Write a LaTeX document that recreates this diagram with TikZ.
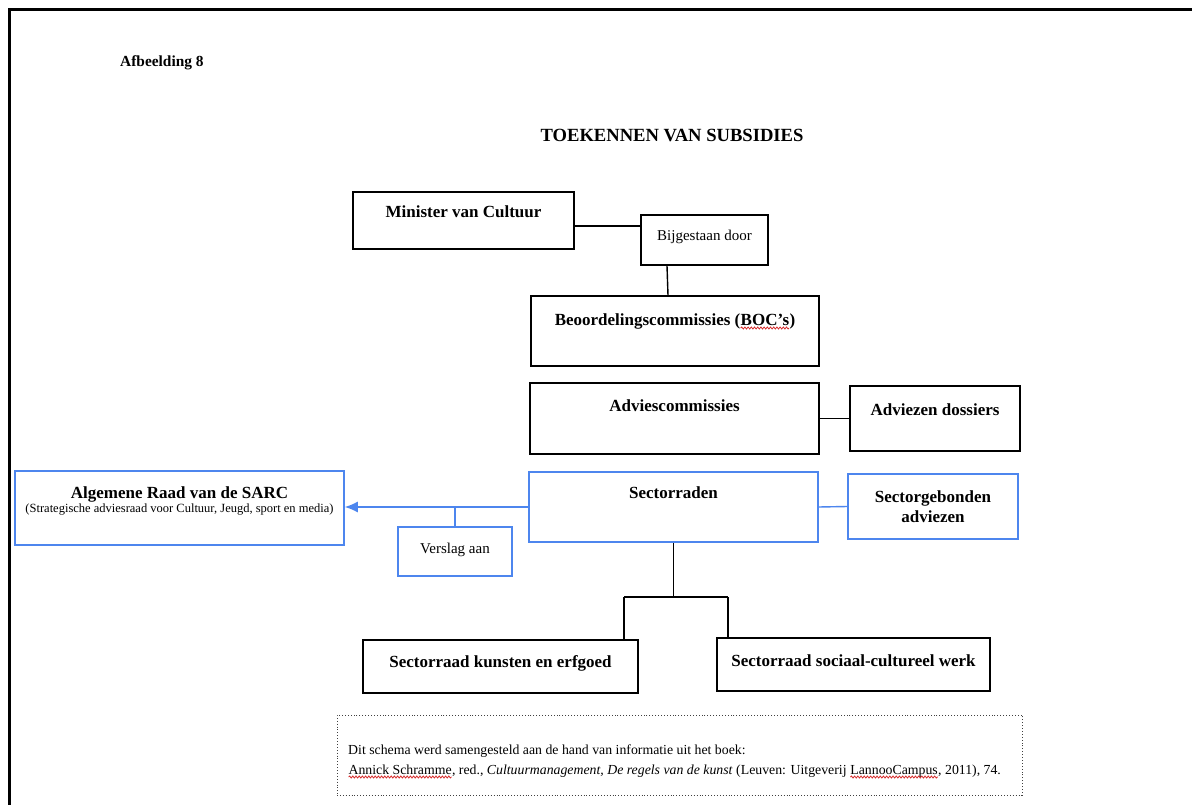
\documentclass[tikz,border=0pt]{standalone}
\usepackage{fontspec}
\setmainfont{Liberation Serif}
\usetikzlibrary{arrows.meta,decorations.pathmorphing}
\definecolor{linkblue}{RGB}{77,134,238}
\definecolor{spellred}{RGB}{215,45,45}
% red wavy underline for flagged words
\newcommand{\flagged}[1]{\tikz[baseline=(w.base),x=1pt,y=1pt]{%
  \node[inner sep=0pt, outer sep=0pt] (w) {#1};
  \draw[spellred, line width=0.8pt, decorate,
        decoration={snake, amplitude=1pt, segment length=3.2pt}]
    ([yshift=-3pt]w.base west) -- ([yshift=-3pt]w.base east);}}
\begin{document}
\begin{tikzpicture}[x=1pt,y=-1pt,
  box/.style={draw=black, line width=1.5pt, inner sep=0pt},
  bluebox/.style={draw=linkblue, line width=1.5pt, inner sep=0pt},
  bold/.style={font=\fontsize{17}{19}\selectfont\bfseries, inner sep=0pt, anchor=base, align=center},
  plain/.style={font=\fontsize{15}{17}\selectfont, inner sep=0pt, anchor=base},
  note/.style={font=\fontsize{13.8}{16}\selectfont, inner sep=0pt, anchor=base west},
  link/.style={draw=black, line width=1.4pt},
  bluelink/.style={draw=linkblue, line width=1.4pt}]
\useasboundingbox (0,0) rectangle (1192,805);
\fill[white] (0,0) rectangle (1192,805);

% page frame
\draw[line width=3pt, line join=miter] (9,805) -- (9,10) -- (1192,10);

% headings
\node[bold, anchor=base west, font=\fontsize{15.4}{17}\selectfont\bfseries] (fig) at (120,67) {Afbeelding 8};
\node[bold, font=\fontsize{18.6}{20}\selectfont\bfseries] (title) at (672,142) {TOEKENNEN VAN SUBSIDIES};

% boxes
\node[box, minimum width=221pt, minimum height=57pt] (min) at (463.5,220.5) {};
\node[bold] (minT) at (463.5,218) {Minister van Cultuur};

\node[box, minimum width=127pt, minimum height=50pt] (bij) at (704.5,240) {};
\node[plain] (bijT) at (704.5,241) {Bijgestaan door};

\node[box, minimum width=288pt, minimum height=70pt] (boc) at (675,331) {};
\node[bold] (bocT) at (675,325) {Beoordelingscommissies (\flagged{BOC’s})};

\node[box, minimum width=289pt, minimum height=71pt] (adv) at (674.5,418.5) {};
\node[bold] (advT) at (674.5,411) {Adviescommissies};

\node[box, minimum width=170pt, minimum height=65pt] (dos) at (935,418.5) {};
\node[bold] (dosT) at (935,415) {Adviezen dossiers};

\node[bluebox, minimum width=289pt, minimum height=70pt] (sec) at (673.5,507) {};
\node[bold] (secT) at (673.5,498) {Sectorraden};

\node[bluebox, minimum width=170pt, minimum height=65pt] (sgb) at (933,506.5) {};
\node[bold] (sgbT) at (933,502) {Sectorgebonden};
\node[bold] (sgbT2) at (933,522) {adviezen};

\node[bluebox, minimum width=329pt, minimum height=74pt] (alg) at (179.5,508) {};
\node[bold] (algT) at (179.5,498) {Algemene Raad van de SARC};
\node[plain, font=\fontsize{12.5}{14}\selectfont] (algS) at (179.5,512) {(Strategische adviesraad voor Cultuur, Jeugd, sport en media)};

\node[bluebox, minimum width=114pt, minimum height=49pt] (ver) at (455,551.5) {};
\node[plain] (verT) at (455,553) {Verslag aan};

\node[box, minimum width=275pt, minimum height=53pt] (kun) at (500.5,666.5) {};
\node[bold] (kunT) at (500.5,667) {Sectorraad kunsten en erfgoed};

\node[box, minimum width=273pt, minimum height=53pt] (soc) at (853.5,664.5) {};
\node[bold] (socT) at (853.5,666) {Sectorraad sociaal-cultureel werk};

% source note
\node[draw=black!75, dotted, line width=0.9pt, minimum width=685pt, minimum height=80pt, inner sep=0pt] (src) at (679.5,755) {};
\node[note] (srcA) at (348,754)
  {Dit schema werd samengesteld aan de hand van informatie uit het boek:};
\node[note] (srcB) at (348,774)
  {\flagged{Annick Schramme}, red., \textit{Cultuurmanagement, De regels van de kunst} (Leuven: Uitgeverij \flagged{LannooCampus}, 2011), 74.};

% connectors
\draw[link] ([yshift=-5.5pt]min.east) -- ([yshift=-5.5pt]min.east -| bij.west);
\draw[link] ([xshift=-37.5pt]bij.south) -- ([xshift=-7pt]boc.north);
\draw[link] (adv.east) -- (adv.east -| dos.west);
\draw[bluelink] (sec.east) -- (sgb.west);
\draw[bluelink, -{Latex[length=13pt,width=11pt]}] (sec.west) -- (sec.west -| alg.east);
\draw[bluelink] (ver.north) -- (ver.north |- sec.west);

\coordinate (fork) at (673.5,597);
\coordinate (fl) at (624,597);
\coordinate (fr) at (728,597);
\draw[link] (sec.south) -- (fork);
\draw[link] (fl) -- (fr);
\draw[link] (fl) -- (fl |- kun.north);
\draw[link] (fr) -- (fr |- soc.north);
\end{tikzpicture}
\end{document}
